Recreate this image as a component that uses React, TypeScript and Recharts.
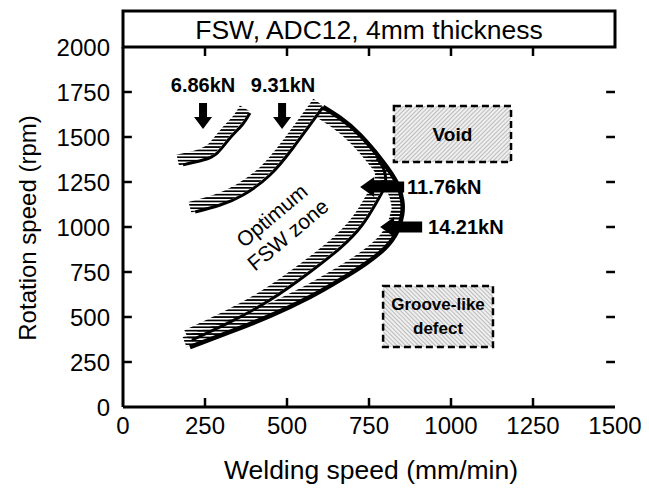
import React from 'react';
import { ComposedChart, Line, XAxis, YAxis, ReferenceArea, ReferenceDot } from 'recharts';

const xTicks = [0, 250, 500, 750, 1000, 1250, 1500];
const yTicks = [0, 250, 500, 750, 1000, 1250, 1500, 1750, 2000];

// boundary curves (welding speed mm/min, rotation speed rpm)
const curve686 = [
  { x: 183, y: 1345 }, { x: 244, y: 1372 }, { x: 287, y: 1411 },
  { x: 326, y: 1494 }, { x: 363, y: 1567 }, { x: 387, y: 1633 },
];
const curve931 = [
  { x: 220, y: 1083 }, { x: 296, y: 1122 }, { x: 366, y: 1178 }, { x: 448, y: 1289 },
  { x: 518, y: 1439 }, { x: 570, y: 1567 }, { x: 610, y: 1667 },
];
const curve1176 = [
  { x: 210, y: 372 }, { x: 326, y: 472 }, { x: 448, y: 594 }, { x: 570, y: 750 },
  { x: 662, y: 883 }, { x: 729, y: 1011 }, { x: 777, y: 1150 }, { x: 799, y: 1233 },
  { x: 796, y: 1317 }, { x: 774, y: 1383 },
];
const curve1421Upper = [
  { x: 610, y: 1667 }, { x: 662, y: 1606 }, { x: 723, y: 1511 }, { x: 793, y: 1361 },
  { x: 835, y: 1244 }, { x: 851, y: 1150 }, { x: 851, y: 1067 },
];
const curve1421Lower = [
  { x: 851, y: 1067 }, { x: 835, y: 972 }, { x: 799, y: 883 }, { x: 738, y: 794 },
  { x: 662, y: 706 }, { x: 570, y: 611 }, { x: 448, y: 506 }, { x: 326, y: 417 },
  { x: 204, y: 333 },
];
const curve1421 = [...curve1421Upper, ...curve1421Lower.slice(1)];

const forceLabels = [
  { text: '6.86kN', x: 244, y: 1789, anchor: 'middle' },
  { text: '9.31kN', x: 488, y: 1789, anchor: 'middle' },
  { text: '11.76kN', x: 866, y: 1222, anchor: 'start' },
  { text: '14.21kN', x: 930, y: 1000, anchor: 'start' },
];
const downArrows = [{ x: 244, y: 1544 }, { x: 485, y: 1544 }];
const leftArrows = [{ x: 723, y: 1222, len: 44 }, { x: 784, y: 1000, len: 42 }];
const regions = [
  { lines: ['Void'], x1: 826, x2: 1183, y1: 1361, y2: 1672, fill: 'url(#fillA)' },
  { lines: ['Groove-like', 'defect'], x1: 793, x2: 1128, y1: 333, y2: 672, fill: 'url(#fillB)' },
];
const zoneText = { lines: ['Optimum', 'FSW zone'], x: 478, y: 1011 };

// hatch bands drawn beside each boundary, on the side of the optimum zone
const HATCH_DX = -16;
const HATCH_DY = 27;
const beside = (arr: { x: number; y: number }[], dx: number, dy: number) => arr.map((p) => ({ x: p.x + dx, y: p.y + dy }));
const hatchSets = [
  beside(curve686, HATCH_DX, HATCH_DY),
  beside(curve931, HATCH_DX, HATCH_DY),
  beside(curve1176, HATCH_DX, HATCH_DY),
  beside(curve1421Upper, HATCH_DX, -HATCH_DY),
  beside(curve1421Lower, HATCH_DX, HATCH_DY),
];

const FONT = '"Liberation Sans", Arial, Helvetica, sans-serif';
const X_MIN = xTicks[0], X_MAX = xTicks[xTicks.length - 1];
const Y_MIN = yTicks[0], Y_MAX = yTicks[yTicks.length - 1];
// inward tick marks on all four frame sides, lengths in axis units (about 9 px)
const X_TICK_LEN = 27;
const Y_TICK_LEN = 50;
const tickSegments = [
  ...xTicks.slice(1, -1).map((v) => [{ x: v, y: Y_MIN }, { x: v, y: Y_MIN + Y_TICK_LEN }]),
  ...xTicks.slice(1, -1).map((v) => [{ x: v, y: Y_MAX }, { x: v, y: Y_MAX - Y_TICK_LEN }]),
  ...yTicks.slice(1, -1).map((v) => [{ x: X_MIN, y: v }, { x: X_MIN + X_TICK_LEN, y: v }]),
  ...yTicks.slice(1, -1).map((v) => [{ x: X_MAX, y: v }, { x: X_MAX - X_TICK_LEN, y: v }]),
];

const lineProps = { xAxisId: 'b', yAxisId: 'l', dataKey: 'y', type: 'natural' as const, dot: false, isAnimationActive: false };

export default function App() {
  return (
    <div style={{ position: 'absolute', left: 0, top: 0, width: 649, height: 488, background: '#fff', fontFamily: FONT }}>
      <svg width={0} height={0} style={{ position: 'absolute' }}>
        <defs>
          <pattern id="hatchH" patternUnits="userSpaceOnUse" width={6} height={3.4}>
            <rect x={0} y={0} width={6} height={1.7} fill="#000" />
          </pattern>
          <pattern id="fillA" patternUnits="userSpaceOnUse" width={3} height={3} patternTransform="rotate(45)">
            <rect width={3} height={3} fill="#efefef" />
            <rect width={0.8} height={3} fill="#b0b0b0" />
          </pattern>
          <pattern id="fillB" patternUnits="userSpaceOnUse" width={3} height={3} patternTransform="rotate(-45)">
            <rect width={3} height={3} fill="#efefef" />
            <rect width={0.8} height={3} fill="#b0b0b0" />
          </pattern>
        </defs>
      </svg>
      <ComposedChart width={649} height={488} margin={{ top: 47, right: 34, bottom: 41, left: 63 }}>
        <XAxis xAxisId="b" dataKey="x" type="number" domain={[X_MIN, X_MAX]} ticks={xTicks} allowDataOverflow
          height={40} tickSize={0} tickLine={false} tickMargin={10} stroke="#000" strokeWidth={3}
          tick={{ fontSize: 24, fill: '#000' }} interval={0} />
        <YAxis yAxisId="l" dataKey="y" type="number" domain={[Y_MIN, Y_MAX]} ticks={yTicks} allowDataOverflow
          width={60} tickSize={0} tickLine={false} tickMargin={13} stroke="#000" strokeWidth={3}
          tick={{ fontSize: 24, fill: '#000' }} interval={0} />
        <XAxis xAxisId="t" orientation="top" dataKey="x" type="number" domain={[X_MIN, X_MAX]} ticks={xTicks} allowDataOverflow
          height={0} tickSize={0} tickLine={false} tick={false} stroke="#000" strokeWidth={3} />
        <YAxis yAxisId="r" orientation="right" dataKey="y" type="number" domain={[Y_MIN, Y_MAX]} ticks={yTicks} allowDataOverflow
          width={0} tickSize={0} tickLine={false} tick={false} stroke="#000" strokeWidth={3} />

        {tickSegments.map((seg, i) => (
          <Line key={'tk' + i} data={seg} xAxisId="b" yAxisId="l" dataKey="y" type="linear" stroke="#000" strokeWidth={2.5} dot={false} isAnimationActive={false} />
        ))}

        {regions.map((r, i) => (
          <ReferenceArea key={'ra' + i} xAxisId="b" yAxisId="l" x1={r.x1} x2={r.x2} y1={r.y1} y2={r.y2}
            fill={r.fill} fillOpacity={1} stroke="#000" strokeWidth={2.5} strokeDasharray="7 4" />
        ))}

        {hatchSets.map((d, i) => (
          <Line key={'h' + i} data={d} {...lineProps} stroke="url(#hatchH)" strokeWidth={11} />
        ))}

        <Line data={curve686} {...lineProps} stroke="#000" strokeWidth={3} />
        <Line data={curve931} {...lineProps} stroke="#000" strokeWidth={3} />
        <Line data={curve1176} {...lineProps} stroke="#000" strokeWidth={3} />
        <Line data={curve1421} {...lineProps} stroke="#000" strokeWidth={4.5} />

        {downArrows.map((a, i) => (
          <ReferenceDot key={'da' + i} xAxisId="b" yAxisId="l" x={a.x} y={a.y}
            shape={(p: any) => (
              <polygon fill="#000"
                points={`${p.cx},${p.cy} ${p.cx - 9},${p.cy - 12} ${p.cx - 4},${p.cy - 12} ${p.cx - 4},${p.cy - 26} ${p.cx + 4},${p.cy - 26} ${p.cx + 4},${p.cy - 12} ${p.cx + 9},${p.cy - 12}`} />
            )} />
        ))}
        {leftArrows.map((a, i) => (
          <ReferenceDot key={'la' + i} xAxisId="b" yAxisId="l" x={a.x} y={a.y}
            shape={(p: any) => (
              <polygon fill="#000"
                points={`${p.cx},${p.cy} ${p.cx + 14},${p.cy - 10} ${p.cx + 14},${p.cy - 5.5} ${p.cx + a.len},${p.cy - 5.5} ${p.cx + a.len},${p.cy + 5.5} ${p.cx + 14},${p.cy + 5.5} ${p.cx + 14},${p.cy + 10}`} />
            )} />
        ))}
        {forceLabels.map((l, i) => (
          <ReferenceDot key={'fl' + i} xAxisId="b" yAxisId="l" x={l.x} y={l.y}
            shape={(p: any) => (
              <text x={p.cx} y={p.cy} textAnchor={l.anchor} dominantBaseline="central" fontSize={20} fontWeight="bold" fill="#000">{l.text}</text>
            )} />
        ))}
        {regions.map((r, i) => (
          <ReferenceDot key={'rl' + i} xAxisId="b" yAxisId="l" x={(r.x1 + r.x2) / 2} y={(r.y1 + r.y2) / 2}
            shape={(p: any) => (
              <text x={p.cx} y={p.cy} textAnchor="middle" fontSize={r.lines.length > 1 ? 17 : 19} fontWeight="bold" fill="#000">
                {r.lines.map((t, j) => (
                  <tspan key={j} x={p.cx} y={p.cy + (j - (r.lines.length - 1) / 2) * 24} dominantBaseline="central">{t}</tspan>
                ))}
              </text>
            )} />
        ))}
        <ReferenceDot xAxisId="b" yAxisId="l" x={zoneText.x} y={zoneText.y}
          shape={(p: any) => (
            <text transform={`rotate(-40 ${p.cx} ${p.cy})`} textAnchor="middle" fontSize={21} fill="#000">
              {zoneText.lines.map((t, j) => (
                <tspan key={j} x={p.cx} y={p.cy + (j - 0.5) * 25} dominantBaseline="central">{t}</tspan>
              ))}
            </text>
          )} />
      </ComposedChart>
      <svg width={649} height={488} style={{ position: 'absolute', left: 0, top: 0, pointerEvents: 'none' }}>
        <rect x={123} y={11} width={492} height={36} fill="#fff" stroke="#000" strokeWidth={3} />
        <text x={369} y={39} textAnchor="middle" fontSize={26.5} fill="#000">FSW, ADC12, 4mm thickness</text>
        <text x={371} y={479} textAnchor="middle" fontSize={26.5} fill="#000">Welding speed (mm/min)</text>
        <text transform="rotate(-90 36 228)" x={36} y={228} textAnchor="middle" fontSize={24} fill="#000">Rotation speed (rpm)</text>
      </svg>
    </div>
  );
}
